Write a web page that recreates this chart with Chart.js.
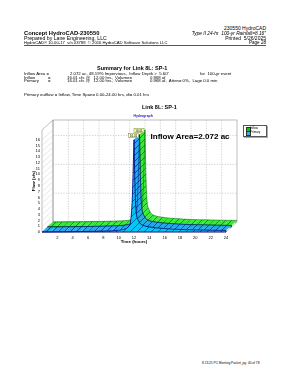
<!DOCTYPE html>
<html>
<head>
<meta charset="utf-8">
<script src="https://cdn.jsdelivr.net/npm/chart.js@4.4.1/dist/chart.umd.min.js"></script>
<style>
html, body { margin: 0; padding: 0; background: #fff; }
body { width: 293px; height: 380px; position: relative; overflow: hidden; font-family: "Liberation Sans", Arial, sans-serif; color: #000; }
.t { position: absolute; white-space: pre; line-height: 1; z-index: 2; }
.b { font-weight: bold; }
#chart { position: absolute; left: 0; top: 110px; z-index: 1; }
.legend { position: absolute; left: 243px; top: 125px; width: 22px; height: 10px; border: 0.6px solid #555; background: #fff; z-index: 2; box-shadow: 1px 1px 0 #aaa; }
.sw { position: absolute; left: 1.5px; width: 3px; height: 3px; border: 0.4px solid #333; }
.lt { position: absolute; left: 6px; font-size: 3px; line-height: 1; white-space: pre; }
</style>
</head>
<body>

<div class="t" style="right:27px; top:26.3px; font-size:5px;">230550 HydroCAD</div>
<div class="t b" style="left:24px; top:31px; font-size:5.8px;">Concept HydroCAD-230550</div>
<div class="t" style="right:27px; top:31.6px; font-size:4.8px; font-style:italic;">Type II 24-hr  100-yr Rainfall=8.16"</div>
<div class="t" style="left:24px; top:35.6px; font-size:5.2px;">Prepared by Lane Engineering, LLC</div>
<div class="t" style="right:27px; top:35.6px; font-size:5px;">Printed  5/26/2025</div>
<div class="t" style="left:24px; top:40.8px; font-size:4.2px;">HydroCAD® 10.00-17  s/n 03788  © 2016 HydroCAD Software Solutions LLC</div>
<div class="t" style="right:27px; top:40.6px; font-size:4.6px;">Page 28</div>
<div style="position:absolute; left:24px; top:45.4px; width:242px; height:0.6px; background:#555;"></div>

<div class="t b" style="left:97px; top:66.2px; font-size:5.5px;">Summary for Link 8L: SP-1</div>

<div class="t" style="left:24px; top:71.8px; font-size:4.3px;">Inflow Area =</div>
<div class="t" style="left:70px; top:71.8px; font-size:4.3px;">2.072 ac, 48.19% Impervious,  Inflow Depth &gt;  5.60"</div>
<div class="t" style="left:200px; top:71.8px; font-size:4.3px;">for  100-yr event</div>

<div class="t" style="left:24px; top:75.5px; font-size:4.3px;">Inflow</div>
<div class="t" style="left:48px; top:75.5px; font-size:4.3px;">=</div>
<div class="t" style="left:67px; top:75.5px; font-size:4.3px;">16.01 cfs @   12.00 hrs,  Volume=</div>
<div class="t" style="left:150px; top:75.5px; font-size:4.3px;">0.968 af</div>

<div class="t" style="left:24px; top:79.1px; font-size:4.3px;">Primary</div>
<div class="t" style="left:48px; top:79.1px; font-size:4.3px;">=</div>
<div class="t" style="left:67px; top:79.1px; font-size:4.3px;">16.01 cfs @   12.00 hrs,  Volume=</div>
<div class="t" style="left:150px; top:79.1px; font-size:4.3px;">0.968 af,  Atten= 0%,  Lag= 0.0 min</div>

<div class="t" style="left:24px; top:92.5px; font-size:4.3px;">Primary outflow = Inflow, Time Span= 0.00-24.00 hrs, dt= 0.01 hrs</div>

<div class="t b" style="left:142px; top:105px; font-size:5.5px;">Link 8L: SP-1</div>
<div class="t b" style="left:133.5px; top:115.4px; font-size:3.4px; color:#2222cc;">Hydrograph</div>

<div class="t b" style="left:150.5px; top:132.8px; font-size:8.05px;">Inflow Area=2.072 ac</div>

<div class="legend">
  <div class="sw" style="top:1.2px; background:#00d000;"></div>
  <div class="lt" style="top:1.2px;">Inflow</div>
  <div class="sw" style="top:5.4px; background:#29b6f6;"></div>
  <div class="lt" style="top:5.4px;">Primary</div>
</div>

<div class="t" style="left:202px; top:362.4px; font-size:3.2px;">8.13.25 PC Meeting Packet_pg. 40 of 78</div>

<canvas id="chart" width="293" height="140"></canvas>

<script>
// hydrograph values (hours, cfs)
const hours = [0, 1, 2, 3, 4, 5, 6, 7, 8, 9, 10, 10.5, 11, 11.25, 11.5, 11.6, 11.7, 11.8, 11.9, 12,
  12.1, 12.2, 12.3, 12.4, 12.5, 12.75, 13, 13.5, 14, 15, 16, 17, 18, 19, 20, 21, 22, 23, 24];
const inflowCfs = [0, 0.01, 0.03, 0.04, 0.06, 0.08, 0.1, 0.13, 0.16, 0.2, 0.3, 0.42, 0.6, 0.88, 1.3, 2.3, 3.8, 6.5, 11.4, 16.01,
  9.2, 4.8, 3.1, 2.5, 2.2, 1.55, 1.25, 1.0, 0.88, 0.7, 0.6, 0.5, 0.44, 0.4, 0.37, 0.34, 0.31, 0.29, 0.27];
// Primary outflow = Inflow
const primaryCfs = [0, 0.01, 0.03, 0.04, 0.06, 0.08, 0.1, 0.13, 0.16, 0.2, 0.3, 0.42, 0.6, 0.88, 1.3, 2.3, 3.8, 6.5, 11.4, 16.01,
  9.2, 4.8, 3.1, 2.5, 2.2, 1.55, 1.25, 1.0, 0.88, 0.7, 0.6, 0.5, 0.44, 0.4, 0.37, 0.34, 0.31, 0.29, 0.27];
const seriesNames = ['Inflow', 'Primary'];
const yGridCfs = [5, 10, 15];

// 3d look
const DEPTH = { x: 11, y: -10 };
const LOOK = {
  Inflow: { face: '#00d000', top: '#3ae83a', line: '#005a00', hatch: '#004400', z: [0.5, 1] },
  Primary: { face: '#00c8f8', top: '#29a8f0', line: '#00007a', hatch: '#002266', z: [0, 0.5] }
};
const patterns = {};

function hatch(ctx, bg, fg, size) {
  const c = document.createElement('canvas');
  c.width = c.height = size;
  const g = c.getContext('2d');
  g.fillStyle = bg;
  g.fillRect(0, 0, size, size);
  g.strokeStyle = fg;
  g.lineWidth = 0.6;
  g.beginPath();
  g.moveTo(-1, size + 1);
  g.lineTo(size + 1, -1);
  g.stroke();
  return ctx.createPattern(c, 'repeat');
}

function line(ctx, x1, y1, x2, y2) {
  ctx.beginPath();
  ctx.moveTo(x1, y1);
  ctx.lineTo(x2, y2);
  ctx.stroke();
}

function drawSeries(chart, meta) {
  const ctx = chart.ctx;
  const look = LOOK[meta.label];
  const key = meta.label;
  if (!patterns[key]) {
    patterns[key] = {
      face: hatch(ctx, look.face, look.hatch, 7),
      top: hatch(ctx, look.top, look.line, 6)
    };
  }
  const base = chart.scales.y.getPixelForValue(0);
  const pts = meta.data.map(p => ({ x: p.x, y: p.y }));
  const [z0, z1] = look.z;
  const ax = DEPTH.x * z0, ay = DEPTH.y * z0;
  const bx = DEPTH.x * z1, by = DEPTH.y * z1;

  ctx.save();
  // top ribbon
  ctx.fillStyle = patterns[key].top;
  for (let i = 0; i < pts.length - 1; i++) {
    const p = pts[i], q = pts[i + 1];
    ctx.beginPath();
    ctx.moveTo(p.x + ax, p.y + ay);
    ctx.lineTo(q.x + ax, q.y + ay);
    ctx.lineTo(q.x + bx, q.y + by);
    ctx.lineTo(p.x + bx, p.y + by);
    ctx.closePath();
    ctx.fill();
  }
  // back edge
  ctx.strokeStyle = look.line;
  ctx.lineWidth = 0.5;
  ctx.beginPath();
  pts.forEach((p, i) => i ? ctx.lineTo(p.x + bx, p.y + by) : ctx.moveTo(p.x + bx, p.y + by));
  ctx.stroke();

  // front face
  ctx.beginPath();
  ctx.moveTo(pts[0].x + ax, base + ay);
  pts.forEach(p => ctx.lineTo(p.x + ax, p.y + ay));
  ctx.lineTo(pts[pts.length - 1].x + ax, base + ay);
  ctx.closePath();
  ctx.fillStyle = patterns[key].face;
  ctx.fill();
  ctx.strokeStyle = look.line;
  ctx.lineWidth = 0.8;
  ctx.stroke();
  ctx.restore();
}

const frame3d = {
  id: 'frame3d',
  beforeDatasetsDraw(chart) {
    const { ctx, chartArea: a, scales: { x, y } } = chart;
    const dx = DEPTH.x, dy = DEPTH.y;
    ctx.save();
    ctx.lineWidth = 0.6;
    ctx.fillStyle = '#fff';
    ctx.strokeStyle = '#909090';
    // floor
    ctx.beginPath();
    ctx.moveTo(a.left, a.bottom);
    ctx.lineTo(a.right, a.bottom);
    ctx.lineTo(a.right + dx, a.bottom + dy);
    ctx.lineTo(a.left + dx, a.bottom + dy);
    ctx.closePath();
    ctx.fill();
    ctx.stroke();
    // left wall
    ctx.beginPath();
    ctx.moveTo(a.left, a.bottom);
    ctx.lineTo(a.left, a.top);
    ctx.lineTo(a.left + dx, a.top + dy);
    ctx.lineTo(a.left + dx, a.bottom + dy);
    ctx.closePath();
    ctx.fill();
    ctx.stroke();
    // back wall
    ctx.strokeRect(a.left + dx, a.top + dy, a.right - a.left, a.bottom - a.top);

    ctx.strokeStyle = '#cfcfcf';
    ctx.lineWidth = 0.5;
    x.ticks.forEach(t => {
      const px = x.getPixelForValue(t.value);
      line(ctx, px, a.bottom, px + dx, a.bottom + dy);
    });
    y.ticks.forEach(t => {
      const py = y.getPixelForValue(t.value);
      line(ctx, a.left, py, a.left + dx, py + dy);
    });

    ctx.setLineDash([1.3, 1.3]);
    ctx.strokeStyle = '#a8a8a8';
    x.ticks.forEach(t => {
      if (t.value <= x.min || t.value >= x.max) return;
      const px = x.getPixelForValue(t.value) + dx;
      line(ctx, px, a.top + dy, px, a.bottom + dy);
    });
    yGridCfs.forEach(v => {
      const py = y.getPixelForValue(v) + dy;
      line(ctx, a.left + dx, py, a.right + dx, py);
    });
    ctx.restore();
  },
  beforeDatasetDraw(chart, args) {
    drawSeries(chart, args.meta);
    return false;
  },
  afterDatasetsDraw(chart) {
    const ctx = chart.ctx;
    chart.getSortedVisibleDatasetMetas().slice().reverse().forEach(meta => {
      const look = LOOK[meta.label];
      const vals = chart.data.datasets[meta.index].data.map(d => d.y);
      const k = vals.indexOf(Math.max(...vals));
      const p = meta.data[k];
      const cx = p.x + DEPTH.x * look.z[0] - 0.5;
      const by = p.y + DEPTH.y * look.z[0] - 2;
      ctx.save();
      ctx.fillStyle = '#fbffc8';
      ctx.strokeStyle = '#7a8a20';
      ctx.lineWidth = 0.5;
      ctx.fillRect(cx - 5, by - 4, 10, 4);
      ctx.strokeRect(cx - 5, by - 4, 10, 4);
      ctx.fillStyle = '#000';
      ctx.font = '3px "Liberation Sans", Arial, sans-serif';
      ctx.textAlign = 'center';
      ctx.textBaseline = 'middle';
      ctx.fillText(vals[k].toFixed(2), cx, by - 2);
      ctx.restore();
    });
  }
};

const tickFont = { family: '"Liberation Sans", Arial, sans-serif', size: 4 };

new Chart(document.getElementById('chart'), {
  type: 'line',
  data: {
    datasets: [
      { label: seriesNames[0], order: 2, data: hours.map((h, i) => ({ x: h, y: inflowCfs[i] })), pointRadius: 0, fill: false },
      { label: seriesNames[1], order: 1, data: hours.map((h, i) => ({ x: h, y: primaryCfs[i] })), pointRadius: 0, fill: false }
    ]
  },
  options: {
    responsive: false,
    animation: false,
    devicePixelRatio: 1,
    layout: { padding: { left: 30, right: 67, top: 20, bottom: 5 } },
    plugins: { legend: { display: false }, tooltip: { enabled: false } },
    scales: {
      x: {
        type: 'linear',
        min: 0,
        max: 24,
        grid: { display: false, drawTicks: false },
        border: { display: false },
        ticks: { stepSize: 2, padding: 3, color: '#000', font: tickFont, maxRotation: 0, autoSkip: false,
          callback: v => v === 0 ? '' : v },
        title: { display: true, text: 'Time (hours)', color: '#000', font: { family: tickFont.family, size: 4.4, weight: 'bold' }, padding: { top: 0, bottom: 1 } },
        afterFit: s => { s.height = 13; }
      },
      y: {
        min: 0,
        max: 17.7,
        grid: { display: false, drawTicks: false },
        border: { display: false },
        afterBuildTicks: s => { s.ticks = s.ticks.filter(t => Number.isInteger(t.value)); },
        ticks: { stepSize: 1, padding: 2, color: '#000', font: tickFont, autoSkip: false },
        title: { display: true, text: 'Flow (cfs)', color: '#000', font: { family: tickFont.family, size: 4.4, weight: 'bold' }, padding: { top: 1, bottom: 0 } },
        afterFit: s => { s.width = 12; }
      }
    }
  },
  plugins: [frame3d]
});
</script>
</body>
</html>
